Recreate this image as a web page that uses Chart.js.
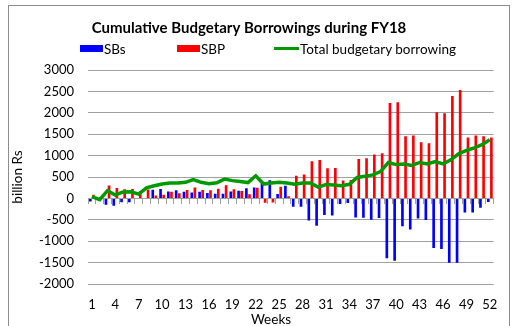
<!DOCTYPE html>
<html>
<head>
<meta charset="utf-8">
<script src="https://cdn.jsdelivr.net/npm/chart.js@4"></script>
<style>
    body { margin: 0; background: #fff; }
    #wrap { position: relative; width: 512px; height: 326px; overflow: hidden; font-family: Lato, sans-serif; color: #000; }
    #frame { position: absolute; left: 8px; top: 5px; width: 500px; height: 340px; border: 1px solid #8c8c8c; }
    #chart { position: absolute; left: 0; top: 0; }
    .lg-box { position: absolute; top: 45px; width: 23px; height: 7px; }
    .lg-line { position: absolute; top: 47px; width: 25px; height: 3px; background: #009a00; }
    .lg-text { position: absolute; top: 41px; font-size: 13.5px; line-height: 17px; white-space: nowrap; }
    #xtitle { position: absolute; top: 311px; left: 221px; width: 100px; text-align: center; font-size: 13.5px; line-height: 16px; }
</style>
</head>
<body>
<div id="wrap">
    <div id="frame"></div>
    <canvas id="chart" width="512" height="326"></canvas>
    <div class="lg-box" style="left:80px;background:#0000ff"></div>
    <div class="lg-text" style="left:104px">SBs</div>
    <div class="lg-box" style="left:177px;background:#ff0000"></div>
    <div class="lg-text" style="left:201px">SBP</div>
    <div class="lg-line" style="left:274px"></div>
    <div class="lg-text" style="left:300px">Total budgetary borrowing</div>
    <div id="xtitle">Weeks</div>
</div>
<script>
// Haftalar
const weeks = ['1','2','3','4','5','6','7','8','9','10','11','12','13','14','15','16','17','18','19','20',
    '21','22','23','24','25','26','27','28','29','30','31','32','33','34','35','36','37','38','39','40',
    '41','42','43','44','45','46','47','48','49','50','51','52'];
const xTickLabels = ['1','4','7','10','13','16','19','22','25','28','31','34','37','40','43','46','49','52'];

// billion Rs
const sbs = [-70, -30, -150, -170, -90, -90, 0, 0, 200, 220, 160, 190, 155, 135, 155, 125, 110, 110, 160, 180,
    240, 255, 340, 425, 100, 295, -195, -195, -515, -640, -385, -400, -130, -110, -445, -455, -500, -460, -1400, -1455,
    -650, -725, -470, -505, -1160, -1185, -1505, -1505, -330, -330, -220, -85];
const sbp = [85, 10, 300, 245, 215, 220, 165, 210, 70, 85, 155, 120, 195, 255, 195, 190, 225, 310, 215, 175,
    95, 250, -100, -95, 270, 50, 530, 560, 870, 900, 705, 710, 420, 430, 920, 940, 1025, 1055, 2230, 2245,
    1450, 1470, 1310, 1290, 2015, 1990, 2390, 2530, 1425, 1470, 1450, 1425];
const totalBorrowing = [40, -30, 180, 80, 150, 155, 100, 245, 295, 335, 360, 360, 375, 440, 375, 345, 365, 450, 415, 395,
    370, 528, 335, 360, 375, 360, 330, 360, 360, 265, 325, 315, 295, 330, 490, 515, 550, 625, 840, 790,
    805, 770, 840, 805, 860, 805, 900, 1040, 1120, 1180, 1255, 1372];

const yTicks = { min: -2000, max: 3000, step: 500 };
const gridGrey = '#a0a0a0';
const tickFont = { family: 'Lato', size: 13, lineHeight: 1 };

const ctx = document.getElementById('chart').getContext('2d');
new Chart(ctx, {
    type: 'bar',
    data: {
        labels: weeks,
        datasets: [
            {
                type: 'line',
                label: 'Total budgetary borrowing',
                data: totalBorrowing,
                borderColor: '#009a00',
                borderWidth: 3.5,
                pointRadius: 0,
                tension: 0,
                order: 0
            },
            { label: 'SBs', data: sbs, backgroundColor: '#0000ff', order: 1 },
            { label: 'SBP', data: sbp, backgroundColor: '#ff0000', order: 1 }
        ]
    },
    options: {
        responsive: false,
        animation: false,
        layout: { padding: { left: 0, right: 14, top: 0, bottom: 0 } },
        datasets: { bar: { categoryPercentage: 0.8, barPercentage: 0.85 } },
        plugins: {
            legend: { display: false },
            tooltip: { enabled: false },
            title: {
                display: true,
                text: 'Cumulative Budgetary Borrowings during FY18',
                color: '#000',
                font: { family: 'Lato', size: 15, weight: 'bold', lineHeight: 1.2 },
                padding: { top: 19, bottom: 33 }
            }
        },
        scales: {
            x: {
                position: 'bottom',
                offset: true,
                grid: { display: false, drawTicks: false },
                border: { display: false },
                ticks: {
                    autoSkip: false,
                    maxRotation: 0,
                    padding: 14.5,
                    color: '#000',
                    font: tickFont,
                    callback: (v, i) => xTickLabels.includes(weeks[i]) ? weeks[i] : ''
                }
            },
            xz: {
                type: 'category',
                position: { y: 0 },
                offset: true,
                grid: { offset: true, drawOnChartArea: false, drawTicks: true, tickLength: 5, color: gridGrey },
                border: { color: gridGrey },
                ticks: { display: false, autoSkip: false }
            },
            y: {
                min: yTicks.min,
                max: yTicks.max,
                grid: { color: gridGrey, drawTicks: false },
                border: { display: false },
                ticks: { stepSize: yTicks.step, padding: 14, color: '#000', font: tickFont, callback: (v) => String(v) },
                title: {
                    display: true,
                    text: 'billion Rs',
                    color: '#000',
                    font: { family: 'Lato', size: 13.5, lineHeight: 1.2 },
                    padding: { top: 10, bottom: 0 }
                },
                afterFit: (scale) => { scale.width = 88; }
            }
        }
    }
});
</script>
</body>
</html>
